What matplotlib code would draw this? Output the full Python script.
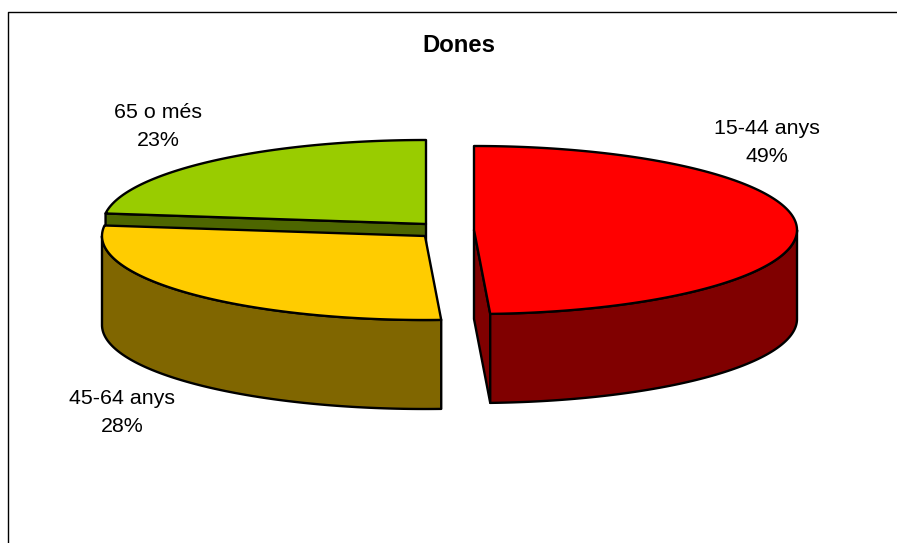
import matplotlib
matplotlib.use('Agg')
import matplotlib.pyplot as plt
import numpy as np

plt.rcParams['font.family'] = ['Liberation Sans', 'DejaVu Sans']

categories = ['15-44 anys', '45-64 anys', '65 o més']
values = [49.2, 27.8, 23.0]
top_colors = ['#ff0000', '#ffcc00', '#99cc00']
side_colors = ['#800000', '#806600', '#4d6600']

# pixel layout of the 3d pie
radius_x = 323
radius_y = 84
depth = 89
centers = [(474, 230), (425, 236), (426, 224)]
label_pos = [(767, 142), (122, 412), (158, 126)]

edges = np.cumsum([0] + values) / sum(values) * 2 * np.pi


def arc(center, t0, t1):
    # angles run clockwise from 12 o'clock
    t = np.linspace(t0, t1, 200)
    return center[0] + radius_x * np.sin(t), center[1] - radius_y * np.cos(t)


def draw_shape(ax, xs, ys, color):
    ax.fill(xs, ys, facecolor=color, edgecolor='black', linewidth=1.7, joinstyle='round')


fig = plt.figure(figsize=(8.97, 5.43), dpi=100)
ax = fig.add_axes([0, 0, 1, 1])
ax.set_xlim(0, 897)
ax.set_ylim(543, 0)
ax.axis('off')

# chart frame, open at the right and the bottom
ax.plot([8, 8, 897], [543, 12, 12], color='black', linewidth=1.0)

# back slices first, front ones paint over them
for i in [2, 1, 0]:
    c = centers[i]
    t0, t1 = edges[i], edges[i + 1]

    # cut faces that look towards the viewer
    if i == 2:
        ox, oy = arc(c, t0, t0)
        draw_shape(ax, [ox[0], c[0], c[0], ox[0]],
                   [oy[0], c[1], c[1] + depth, oy[0] + depth], side_colors[i])
    if i == 0:
        ox, oy = arc(c, t1, t1)
        draw_shape(ax, [c[0], c[0], ox[0], ox[0]],
                   [c[1], c[1] + depth, oy[0] + depth, oy[0]], side_colors[i])

    # outer wall, only the lower half of the ellipse shows
    s0, s1 = max(t0, np.pi / 2), min(t1, 1.5 * np.pi)
    if s1 > s0:
        wx, wy = arc(c, s0, s1)
        draw_shape(ax, np.r_[wx, wx[::-1]], np.r_[wy, wy[::-1] + depth], side_colors[i])

    top_x, top_y = arc(c, t0, t1)
    draw_shape(ax, np.r_[c[0], top_x], np.r_[c[1], top_y], top_colors[i])

ax.text(459, 45, 'Dones', fontsize=17.2, fontweight='bold', ha='center', va='center')

for cat, val, pos in zip(categories, values, label_pos):
    ax.text(pos[0], pos[1], f'{cat}\n{val:.0f}%', fontsize=15.4, ha='center', va='center',
            multialignment='center', linespacing=1.6)

fig.savefig('out.png', dpi=100)
